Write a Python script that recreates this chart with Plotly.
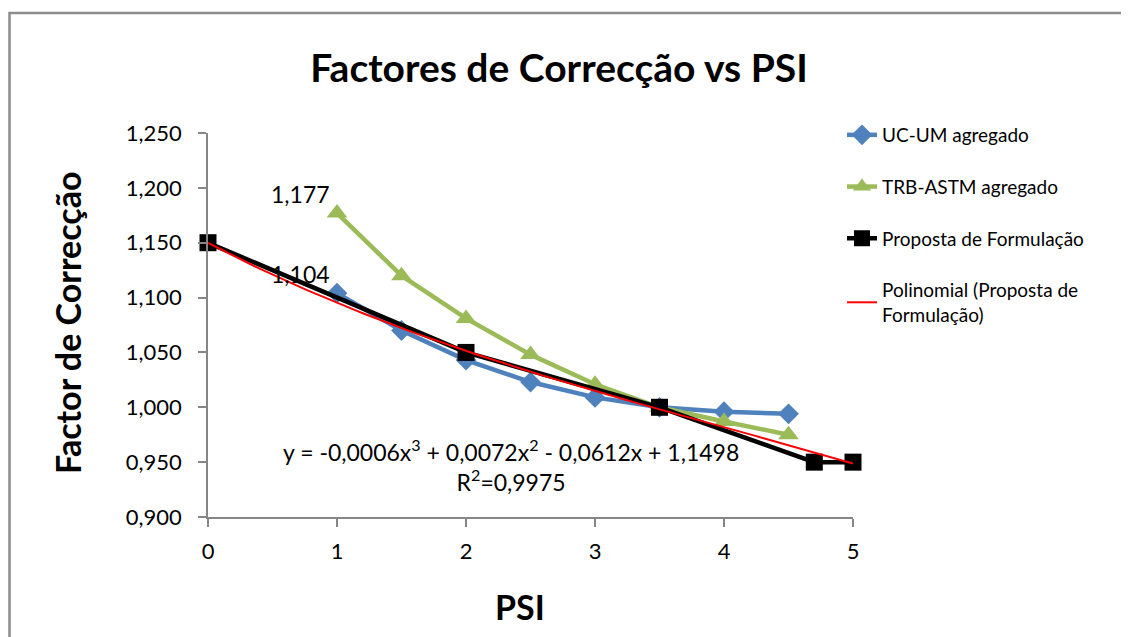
"""Factores de Correcção vs PSI"""
import numpy as np
import plotly.graph_objects as go

FONT = "Lato"

# UC-UM agregado
ucum_psi = [1, 1.5, 2, 2.5, 3, 3.5, 4, 4.5]
ucum_fc = [1.104, 1.070, 1.043, 1.023, 1.009, 1.000, 0.996, 0.994]

# TRB-ASTM agregado
trb_psi = [1, 1.5, 2, 2.5, 3, 3.5, 4, 4.5]
trb_fc = [1.177, 1.120, 1.081, 1.048, 1.021, 1.000, 0.987, 0.975]

# Proposta de Formulação
prop_psi = [0, 2, 3.5, 4.7, 5]
prop_fc = [1.150, 1.050, 1.000, 0.950, 0.950]

# Polinomial (coeficientes lidos da equação no gráfico)
poly_coef = [-0.0006, 0.0072, -0.0612, 1.1498]
poly_r2 = 0.9975

y_ticks = [0.900, 0.950, 1.000, 1.050, 1.100, 1.150, 1.200, 1.250]

BLUE = "#4F81BD"
GREEN = "#9BBB59"
AXIS = "#868686"

# a página tem 8px de margem no body
OFF = 8
PL, PT, PW, PH = 208 - OFF, 133 - OFF, 645, 384


def px_x(p):  # pixel de ecrã -> paper x
    return (p - 208) / PW


def px_y(p):  # pixel de ecrã -> paper y
    return (517 - p) / PH


xs = np.linspace(0, 5, 101)
poly_fc = np.polyval(poly_coef, xs)

fig = go.Figure()
fig.add_trace(go.Scatter(
    x=ucum_psi, y=ucum_fc, name="UC-UM agregado", mode="lines+markers",
    line=dict(color=BLUE, width=4.5),
    marker=dict(symbol="diamond", size=16, color=BLUE),
    legendgroup="a", cliponaxis=False,
))
fig.add_trace(go.Scatter(
    x=trb_psi, y=trb_fc, name="TRB-ASTM agregado", mode="lines+markers",
    line=dict(color=GREEN, width=4.5),
    marker=dict(symbol="triangle-up", size=18, color=GREEN),
    legendgroup="b", cliponaxis=False,
))
fig.add_trace(go.Scatter(
    x=prop_psi, y=prop_fc, name="Proposta de Formulação", mode="lines+markers",
    line=dict(color="black", width=4.5),
    marker=dict(symbol="square", size=17, color="black"),
    legendgroup="c", cliponaxis=False,
))
fig.add_trace(go.Scatter(
    x=xs, y=poly_fc, name="Polinomial (Proposta de<br>Formulação)", mode="lines",
    line=dict(color="#FF0000", width=2),
    legendgroup="d", cliponaxis=False,
))


# rótulos de dados
def fmt(v):
    return f"{v:.3f}".replace(".", ",")


for x, y in [(trb_psi[0], trb_fc[0]), (ucum_psi[0], ucum_fc[0])]:
    fig.add_annotation(
        x=x, y=y, text=fmt(y), showarrow=False,
        xanchor="right", yanchor="bottom", xshift=-5, yshift=3,
        font=dict(size=23, color="black", family=FONT),
    )

c = [f"{abs(v):.4f}".replace(".", ",") for v in poly_coef]
eq = (f"y = -{c[0]}x<sup>3</sup> + {c[1]}x<sup>2</sup> - {c[2]}x + {c[3]}"
      f"<br>R<sup>2</sup>=" + f"{poly_r2:.4f}".replace(".", ","))
fig.add_annotation(
    x=px_x(511), y=px_y(465), xref="paper", yref="paper",
    xanchor="center", yanchor="middle",
    text=eq, showarrow=False, align="center",
    font=dict(size=23, color="black", family=FONT),
)

# títulos dos eixos
fig.add_annotation(
    x=px_x(67), y=px_y(323), xref="paper", yref="paper",
    xanchor="center", yanchor="middle",
    text="<b>Factor de Correcção</b>", textangle=-90, showarrow=False,
    font=dict(size=34, color="black", family=FONT),
)
fig.add_annotation(
    x=px_x(520), y=px_y(606), xref="paper", yref="paper",
    xanchor="center", yanchor="middle",
    text="<b>PSI</b>", showarrow=False,
    font=dict(size=34, color="black", family=FONT),
)

# moldura do gráfico
fig.add_shape(
    type="rect", xref="paper", yref="paper",
    x0=px_x(9.5), x1=px_x(1160),
    y0=px_y(680), y1=px_y(13),
    line=dict(color="#8c8c8c", width=2.5),
)

axis_common = dict(
    showline=True, linecolor=AXIS, linewidth=1.5,
    ticks="outside", ticklen=8, tickcolor=AXIS, tickwidth=1.5,
    showgrid=False, zeroline=False,
    tickfont=dict(size=22, color="black", family=FONT),
)

fig.update_layout(
    width=1129, height=637,
    margin=dict(l=PL, r=1129 - PL - PW, t=PT, b=637 - PT - PH),
    plot_bgcolor="white", paper_bgcolor="white",
    separators=",.",
    font=dict(family=FONT, color="black"),
    title=dict(
        text="<b>Factores de Correcção vs PSI</b>",
        x=(559 - OFF) / 1129, xanchor="center", xref="container",
        y=1 - (68 - OFF) / 637, yanchor="middle", yref="container",
        font=dict(size=39, color="black", family=FONT),
    ),
    xaxis=dict(range=[0, 5], dtick=1, tickformat="d",
               ticklabelstandoff=6, **axis_common),
    yaxis=dict(range=[0.9, 1.25], tickvals=y_ticks, tickformat=".3f",
               ticklabelstandoff=12, **axis_common),
    legend=dict(
        x=px_x(842), xanchor="left",
        y=px_y(116), yanchor="top",
        traceorder="grouped", tracegroupgap=24,
        font=dict(size=19, color="black", family=FONT),
        bgcolor="rgba(0,0,0,0)",
    ),
    showlegend=True,
)

fig.write_html("out.html")
